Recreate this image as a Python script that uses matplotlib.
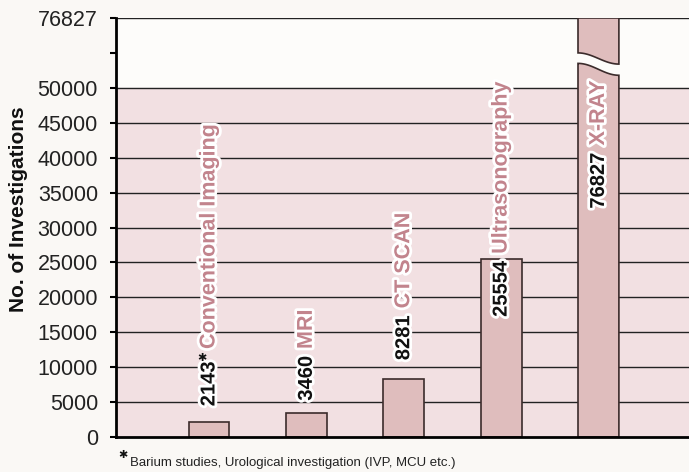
import numpy as np
import matplotlib.pyplot as plt
from matplotlib.patches import Polygon
import matplotlib.patheffects as pe

categories = ['Conventional Imaging', 'MRI', 'CT SCAN', 'Ultrasonography', 'X-RAY']
values = [2143, 3460, 8281, 25554, 76827]
value_labels = ['2143', '3460', '8281', '25554', '76827']
ytick_vals = [0, 5000, 10000, 15000, 20000, 25000, 30000, 35000, 40000, 45000, 50000]
footnote = 'Barium studies, Urological investigation (IVP, MCU etc.)'

# axis is linear up to 50000, then broken; the top tick stands for the max value
break_lo = 50000
top_disp = 60000

def disp(v):
    return v if v <= break_lo else top_disp

# where the rotated labels start (display units)
label_y = [4400, 5200, 11000, 17200, 32700]
label_gap = [9, 5, 5, 5, 5]

bar_col = '#dfbdbd'
edge_col = '#3b2b2b'
pink = '#c2848d'
w = 0.42

plt.rcParams['font.family'] = ['Liberation Sans', 'DejaVu Sans']

fig = plt.figure(figsize=(6.89, 4.72), dpi=100, facecolor='#faf8f5')
ax = fig.add_axes([116/689, 35/472, 1 - 116/689, 419/472])
ax.set_facecolor('#fdfcfa')
ax.set_xlim(-0.955, 4.93)
ax.set_ylim(0, top_disp)

ax.axhspan(0, break_lo, color='#f2e0e2', zorder=0)
for v in ytick_vals[1:] + [top_disp]:
    ax.axhline(v, color='#222222', lw=1.0, zorder=1)

x = np.arange(len(categories))
for i, v in enumerate(values):
    if v <= break_lo:
        ax.bar(x[i], v, width=w, color=bar_col, edgecolor=edge_col, lw=1.2, zorder=2)
    else:
        x0, x1 = x[i] - w/2, x[i] + w/2
        t = np.linspace(0, 1, 40)
        s = 0.5 - 0.5*np.cos(np.pi*t)
        xs = x0 + (x1 - x0)*t
        lower = 53500 + (51800 - 53500)*s
        upper = 55000 + (53400 - 55000)*s
        lo_pts = [(x0, 0), (x1, 0)] + list(zip(xs[::-1], lower[::-1]))
        up_pts = list(zip(xs, upper)) + [(x1, top_disp), (x0, top_disp)]
        for pts in (lo_pts, up_pts):
            ax.add_patch(Polygon(pts, closed=True, facecolor=bar_col,
                                 edgecolor=edge_col, lw=1.2, zorder=2))

stroke = [pe.withStroke(linewidth=4, foreground='white')]
for i, cat in enumerate(categories):
    num = ax.text(x[i], label_y[i], value_labels[i], rotation=90, ha='center', va='bottom',
                  fontsize=14.5, fontweight='bold', color='#111111', path_effects=stroke, zorder=4)
    ax.annotate(cat, xy=(0.5, 1), xycoords=num, xytext=(0, label_gap[i]),
                textcoords='offset points', rotation=90, ha='center', va='bottom',
                fontsize=15.5, fontweight='bold', color=pink, path_effects=stroke, zorder=4)
    if i == 0:
        ax.annotate('\u2731', xy=(0.15, 1), xycoords=num, xytext=(0, -1),
                    textcoords='offset points', ha='center', va='bottom',
                    fontsize=8, color='#111111', family=['DejaVu Sans'], zorder=4)

ax.set_yticks(ytick_vals + [55000, top_disp])
ax.set_yticklabels([str(v) for v in ytick_vals] + ['', str(values[-1])])
ax.tick_params(axis='y', direction='out', length=4, width=1.5, pad=9,
               labelsize=15.5, labelcolor='#222222')
ax.set_xticks([])
for sp in ['top', 'right']:
    ax.spines[sp].set_visible(False)
ax.spines['left'].set_linewidth(2)
ax.spines['bottom'].set_linewidth(2)
ax.spines['left'].set_zorder(5)
ax.spines['bottom'].set_zorder(5)

fig.text(19/689, 1 - 209/472, 'No. of Investigations', rotation=90, ha='center', va='center',
         fontsize=15, fontweight='bold', color='#111111')
fig.text(118/689, 1 - 455/472, '\u2731', fontsize=8, ha='left', va='center',
         color='#111111', family=['DejaVu Sans'])
fig.text(130/689, 1 - 466/472, footnote, fontsize=9.5, ha='left', va='baseline',
         color='#222222')

fig.savefig('out.png', dpi=100, facecolor=fig.get_facecolor())
